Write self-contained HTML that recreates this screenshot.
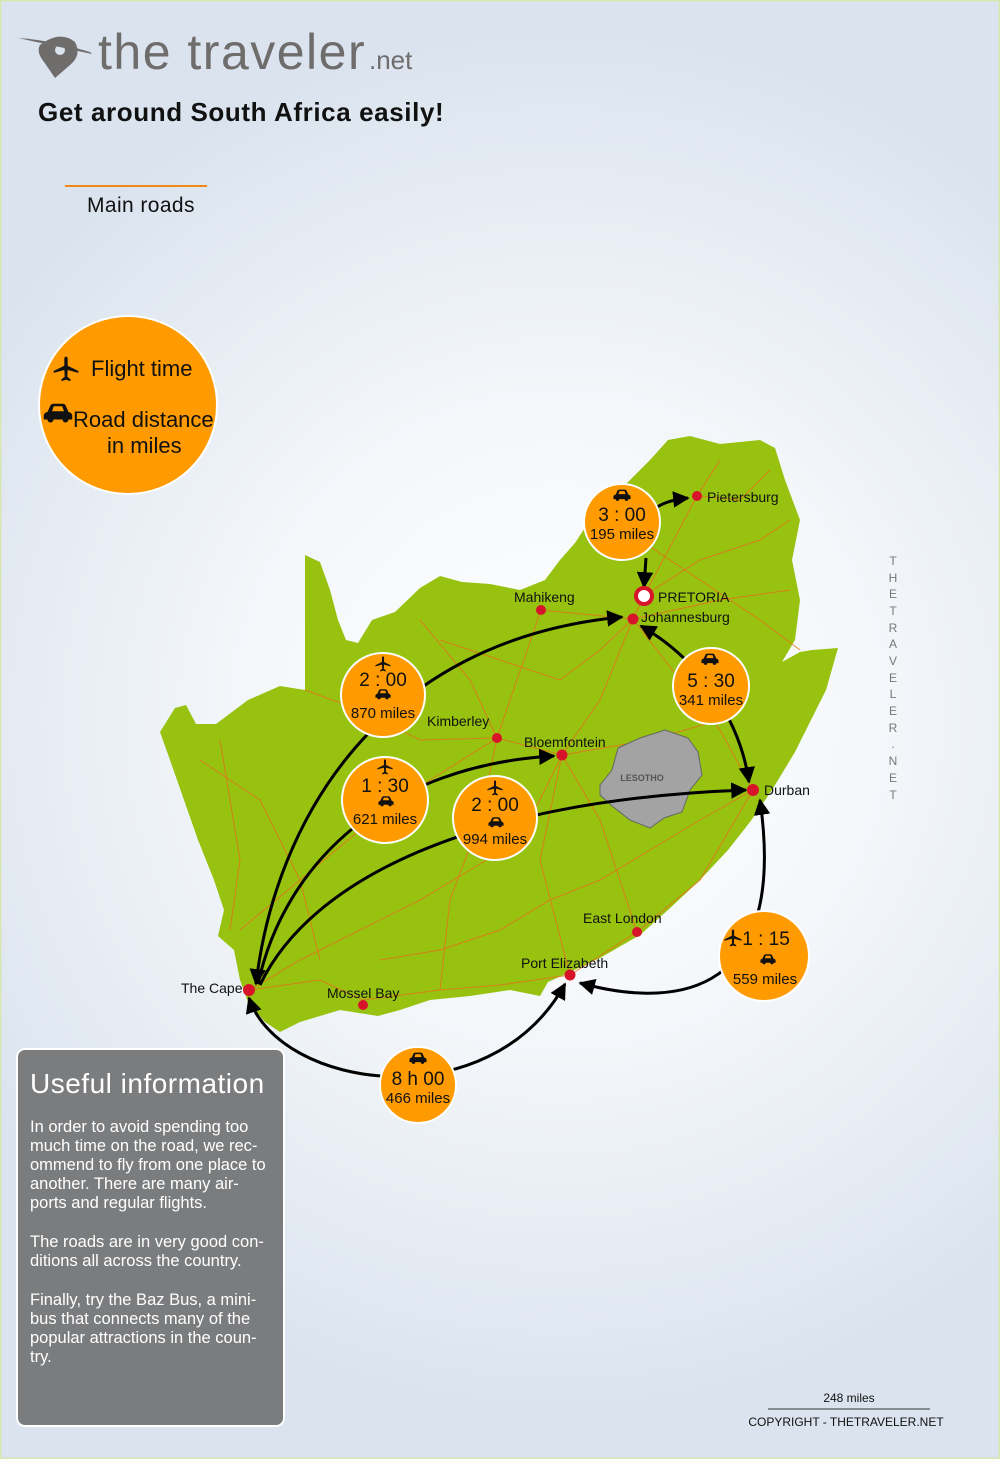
<!DOCTYPE html>
<html><head><meta charset="utf-8"><style>
html,body{margin:0;padding:0}
body{width:1000px;height:1459px;overflow:hidden;font-family:"Liberation Sans","DejaVu Sans",sans-serif}
</style></head><body>
<svg width="1000" height="1459" viewBox="0 0 1000 1459" xmlns="http://www.w3.org/2000/svg" font-family="Liberation Sans, DejaVu Sans, sans-serif">
<defs>
<radialGradient id="bg" cx="560" cy="720" r="700" gradientUnits="userSpaceOnUse">
<stop offset="0" stop-color="#ffffff"/><stop offset="0.45" stop-color="#f4f7fa"/><stop offset="1" stop-color="#dae3ee"/></radialGradient>
<marker id="ah" viewBox="0 0 10 10" refX="9" refY="5" markerWidth="5.5" markerHeight="5.5" orient="auto-start-reverse"><path d="M0,0 L10,5 L0,10 z" fill="#000"/></marker>
<symbol id="car" viewBox="0 0 20 14"><path d="M3,6 L5,1.5 Q5.5,0.5 7,0.5 L13,0.5 Q14.5,0.5 15,1.5 L17,6 Q19.5,6.5 19.5,8.5 L19.5,11 L17,11 A2,2 0 0 1 13,11 L7,11 A2,2 0 0 1 3,11 L0.5,11 L0.5,8.5 Q0.5,6.5 3,6 Z M6,5.5 L14,5.5 L12.8,2.2 L7.2,2.2 Z" fill="#111" fill-rule="evenodd"/></symbol>
<symbol id="plane" viewBox="0 0 20 20"><path d="M10,0.5 Q11.3,0.5 11.3,2.5 L11.3,7.5 L19.5,11.5 L19.5,13 L11.3,10.8 L11,16 L13.5,18 L13.5,19.3 L10,18.3 L6.5,19.3 L6.5,18 L9,16 L8.7,10.8 L0.5,13 L0.5,11.5 L8.7,7.5 L8.7,2.5 Q8.7,0.5 10,0.5Z" fill="#111"/></symbol>
</defs>
<rect width="1000" height="1459" fill="url(#bg)"/>
<rect x="0.5" y="0.5" width="999" height="1458" fill="none" stroke="#d9e6a9" stroke-width="1.5"/>

<path d="M40,45 Q60,30 75,42 Q82,55 70,65 L55,78 L44,62 Q36,52 40,45Z" fill="#6f6c6c"/>
<circle cx="60" cy="50" r="5" fill="#dbe3ed"/>
<path d="M18,38 Q50,40 90,52 L92,54 Q55,46 18,38Z" fill="#6f6c6c"/>
<text x="98" y="69" font-size="50" fill="#6f6c6c" letter-spacing="1.5">the traveler</text>
<text x="369" y="69" font-size="26" fill="#6f6c6c">.net</text>
<text x="38" y="121" font-size="26" font-weight="bold" fill="#111" letter-spacing="0.6">Get around South Africa easily!</text>
<line x1="65" y1="186" x2="207" y2="186" stroke="#f08a16" stroke-width="2"/>
<text x="87" y="212" font-size="21" fill="#111" letter-spacing="0.4">Main roads</text>

<circle cx="128" cy="405" r="89" fill="#ff9a00" stroke="#fff" stroke-width="2"/>
<use href="#plane" x="53" y="356" width="26" height="26"/>
<text x="91" y="376" font-size="22" fill="#111">Flight time</text>
<use href="#car" x="43" y="403" width="30" height="21"/>
<text x="73" y="427" font-size="22" fill="#111">Road distance</text>
<text x="107" y="453" font-size="22" fill="#111">in miles</text>

<path d="M305,555 L320,562 L330,590 L338,620 L346,640 L358,643 L372,620 L395,612 L420,588 L440,576 L462,582 L490,584 L520,590 L545,580 L560,560 L575,543 L590,520 L608,500 L628,482 L650,460 L668,440 L690,436 L720,444 L760,440 L775,448 L785,480 L800,520 L792,560 L800,600 L795,640 L782,662 L800,652 L812,650 L838,648 L826,690 L810,722 L795,752 L772,790 L750,822 L728,850 L700,880 L668,910 L640,935 L600,958 L570,972 L548,982 L540,996 L510,990 L470,996 L430,1000 L400,1010 L378,1016 L340,1010 L300,1022 L280,1032 L265,1022 L248,1002 L240,980 L234,950 L218,936 L224,910 L214,880 L198,840 L184,800 L170,760 L160,732 L175,708 L186,705 L196,724 L216,724 L248,700 L280,686 L305,690 Z" fill="#97c20f"/>
<g fill="none" stroke="#e8701a" stroke-width="1" opacity="0.8">
<path d="M250,990 L300,960 L360,930 L420,900 L470,870 L520,840 L562,755 L600,700 L633,619 L644,596 L697,496 L720,460"/>
<path d="M250,990 L320,980 L363,1000 L440,990 L500,985 L570,975 L637,932 L700,880 L753,790"/>
<path d="M633,619 L680,680 L720,730 L753,790"/>
<path d="M562,755 L600,820 L637,932"/>
<path d="M562,755 L540,860 L570,975"/>
<path d="M497,738 L562,755 L650,740 L720,720"/>
<path d="M497,738 L430,780 L360,830 L300,880 L240,930"/>
<path d="M541,610 L633,619 L720,600 L790,590"/>
<path d="M305,690 L360,710 L420,740 L497,738 L541,610"/>
<path d="M200,760 L260,800 L300,880 L320,960"/>
<path d="M420,620 L470,680 L497,738 L480,820 L450,900 L440,990"/>
<path d="M644,596 L700,560 L760,540 L790,520"/>
<path d="M697,496 L740,500 L770,470"/>
<path d="M633,619 L600,650 L560,680 L500,660 L440,640"/>
<path d="M753,790 L700,820 L650,850 L600,880 L550,900 L500,930 L440,950 L380,960"/>
<path d="M220,740 L230,800 L240,860 L230,930"/>
<path d="M610,500 L640,540 L700,580 L760,620 L800,650"/>
</g>
<path d="M618,748 L640,738 L665,730 L688,738 L698,752 L702,775 L690,790 L682,812 L664,818 L650,828 L630,820 L612,806 L600,795 L600,785 L612,770 Z" fill="#a3a3a3" stroke="#666" stroke-width="1"/>
<text x="642" y="781" font-size="9" font-weight="bold" fill="#555" text-anchor="middle">LESOTHO</text>

<g fill="none" stroke="#000" stroke-width="3">
<path d="M256,984 C275,820 380,640 622,617" marker-start="url(#ah)" marker-end="url(#ah)"/>
<path d="M258,984 C285,860 390,765 554,756" marker-end="url(#ah)"/>
<path d="M260,985 C310,880 470,800 746,790" marker-end="url(#ah)"/>
<path d="M641,626 C700,660 740,720 749,782" marker-start="url(#ah)" marker-end="url(#ah)"/>
<path d="M580,983 C660,1005 790,1010 760,800" marker-start="url(#ah)" marker-end="url(#ah)"/>
<path d="M249,998 C280,1090 490,1120 565,984" marker-start="url(#ah)" marker-end="url(#ah)"/>
<path d="M652,510 C660,505 668,500 688,498" marker-end="url(#ah)"/>
<path d="M646,558 L644,587" marker-end="url(#ah)"/>
</g>

<g fill="#d8142a">
<circle cx="697" cy="496" r="5"/><circle cx="633" cy="619" r="5.5"/><circle cx="541" cy="610" r="5"/>
<circle cx="497" cy="738" r="5"/><circle cx="562" cy="755" r="5.5"/><circle cx="753" cy="790" r="6"/>
<circle cx="637" cy="932" r="5"/><circle cx="570" cy="975" r="5.5"/><circle cx="363" cy="1005" r="5"/><circle cx="249" cy="990" r="6"/>
</g>
<circle cx="644" cy="596" r="8" fill="#fff" stroke="#d8142a" stroke-width="4"/>
<g font-size="14" fill="#111">
<text x="707" y="502">Pietersburg</text>
<text x="658" y="602">PRETORIA</text>
<text x="641" y="622">Johannesburg</text>
<text x="514" y="602">Mahikeng</text>
<text x="427" y="726">Kimberley</text>
<text x="524" y="747">Bloemfontein</text>
<text x="764" y="795">Durban</text>
<text x="583" y="923">East London</text>
<text x="521" y="968">Port Elizabeth</text>
<text x="327" y="998">Mossel Bay</text>
<text x="181" y="993">The Cape</text>
</g>

<g stroke="#fff" stroke-width="2" fill="#ff9a00">
<circle cx="622" cy="522" r="38"/><circle cx="383" cy="695" r="42"/><circle cx="711" cy="686" r="38"/>
<circle cx="385" cy="800" r="43"/><circle cx="495" cy="818" r="42"/><circle cx="764" cy="956" r="45"/><circle cx="418" cy="1085" r="38"/>
</g>
<g font-size="15" fill="#111" text-anchor="middle">
<use href="#car" x="613" y="488" width="18" height="15"/>
<text x="622" y="521" font-size="19">3 : 00</text><text x="622" y="539">195 miles</text>
<use href="#plane" x="375" y="656" width="16" height="16"/>
<text x="383" y="686" font-size="19">2 : 00</text>
<use href="#car" x="375" y="688" width="16" height="13"/>
<text x="383" y="718">870 miles</text>
<use href="#car" x="701" y="652" width="18" height="15"/>
<text x="711" y="687" font-size="19">5 : 30</text><text x="711" y="705">341 miles</text>
<use href="#plane" x="377" y="759" width="16" height="16"/>
<text x="385" y="792" font-size="19">1 : 30</text>
<use href="#car" x="378" y="795" width="16" height="13"/>
<text x="385" y="824">621 miles</text>
<use href="#plane" x="487" y="780" width="16" height="16"/>
<text x="495" y="811" font-size="19">2 : 00</text>
<use href="#car" x="488" y="816" width="16" height="13"/>
<text x="495" y="844">994 miles</text>
<use href="#plane" x="724" y="929" width="18" height="18"/>
<text x="766" y="945" font-size="19">1 : 15</text>
<use href="#car" x="760" y="953" width="16" height="13"/>
<text x="765" y="984">559 miles</text>
<use href="#car" x="409" y="1051" width="18" height="15"/>
<text x="418" y="1085" font-size="19">8 h 00</text><text x="418" y="1103">466 miles</text>
</g>

<g font-size="12" fill="#777" text-anchor="middle">
<text x="893" y="565">T</text><text x="893" y="582">H</text><text x="893" y="598">E</text><text x="893" y="615">T</text><text x="893" y="632">R</text><text x="893" y="648">A</text><text x="893" y="665">V</text><text x="893" y="682">E</text><text x="893" y="698">L</text><text x="893" y="715">E</text><text x="893" y="732">R</text><text x="893" y="748">.</text><text x="893" y="765">N</text><text x="893" y="782">E</text><text x="893" y="799">T</text>
</g>

<rect x="17" y="1049" width="267" height="377" rx="8" fill="#7b7c7e" stroke="#fff" stroke-width="2"/>
<text x="30" y="1093" font-size="28" fill="#fff" letter-spacing="0.5">Useful information</text>
<g font-size="16.5" fill="#fff">
<text x="30" y="1132">In order to avoid spending too</text>
<text x="30" y="1151">much time on the road, we rec-</text>
<text x="30" y="1170">ommend to fly from one place to</text>
<text x="30" y="1189">another. There are many air-</text>
<text x="30" y="1208">ports and regular flights.</text>
<text x="30" y="1247">The roads are in very good con-</text>
<text x="30" y="1266">ditions all across the country.</text>
<text x="30" y="1305">Finally, try the Baz Bus, a mini-</text>
<text x="30" y="1324">bus that connects many of the</text>
<text x="30" y="1343">popular attractions in the coun-</text>
<text x="30" y="1362">try.</text>
</g>

<text x="849" y="1402" font-size="12" fill="#111" text-anchor="middle">248 miles</text>
<line x1="768" y1="1409" x2="930" y2="1409" stroke="#333" stroke-width="1"/>
<text x="846" y="1426" font-size="12" fill="#111" text-anchor="middle">COPYRIGHT - THETRAVELER.NET</text>
</svg>
</body></html>
